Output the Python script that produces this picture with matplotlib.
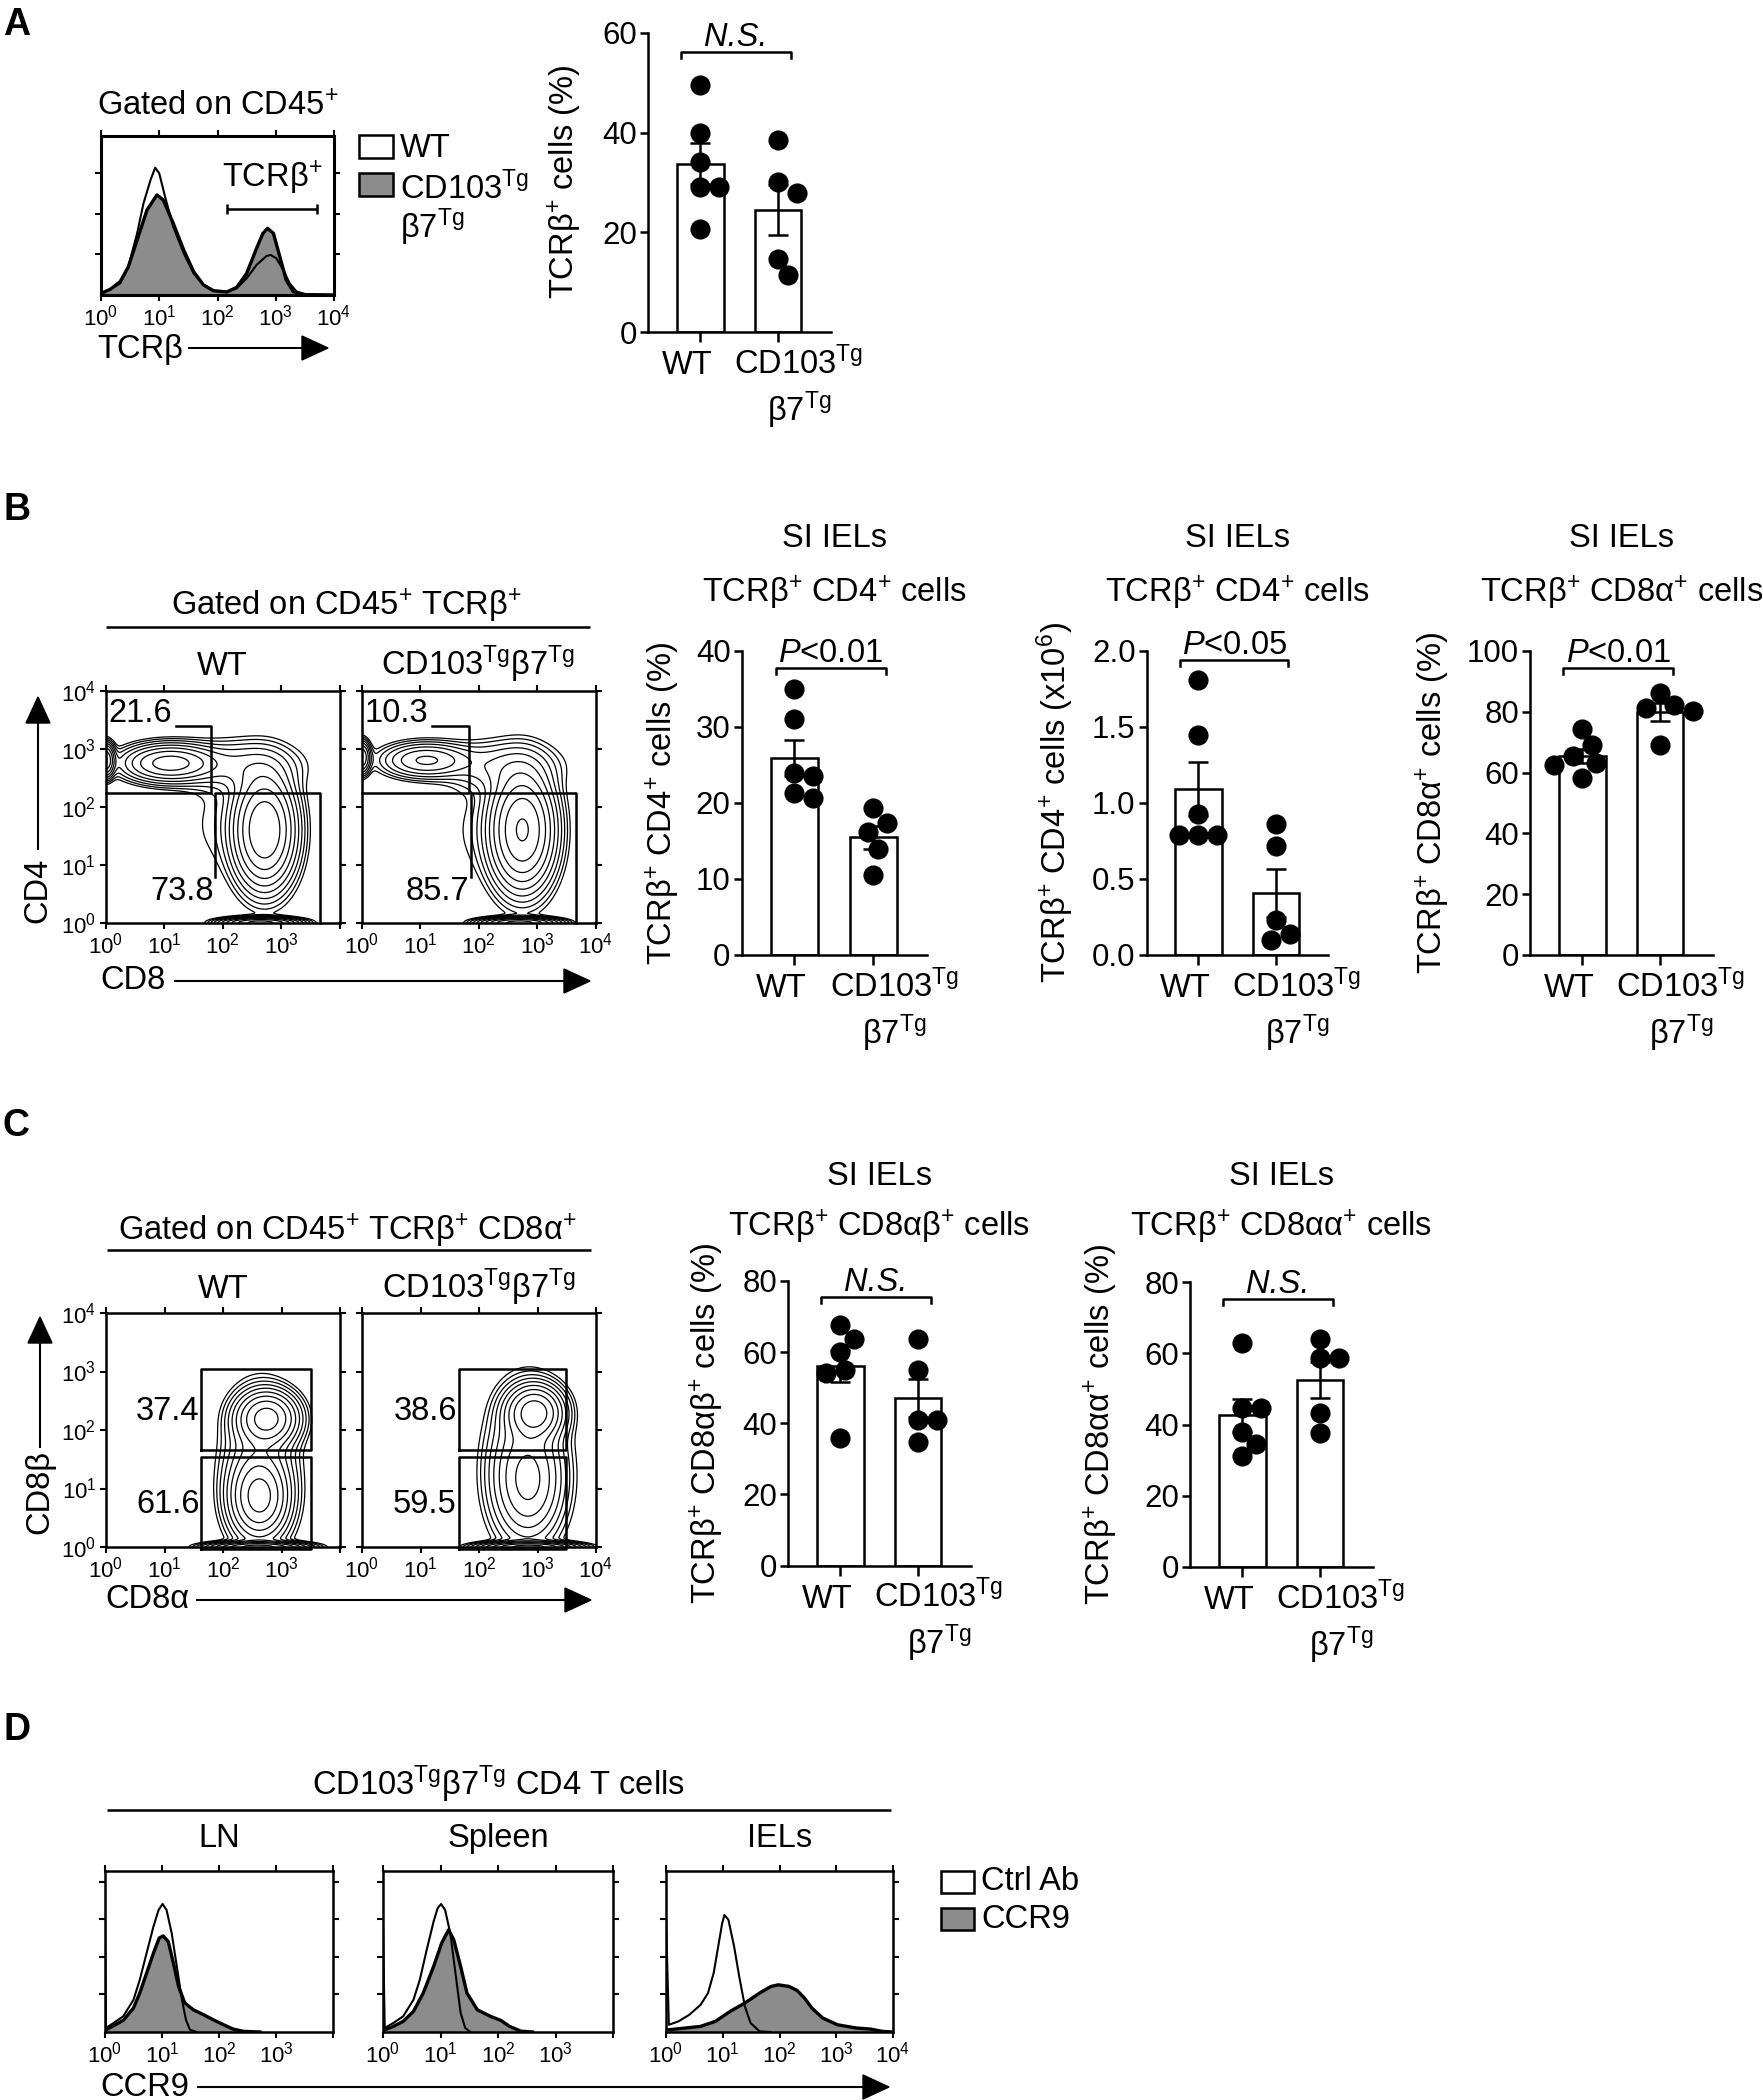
import numpy as np
import matplotlib
matplotlib.use('Agg')
import matplotlib.pyplot as plt
from matplotlib.lines import Line2D
from matplotlib.patches import Polygon, Rectangle

plt.rcParams['font.family'] = ['Liberation Sans', 'DejaVu Sans']
plt.rcParams['mathtext.fontset'] = 'custom'
plt.rcParams['mathtext.rm'] = 'Liberation Sans'
plt.rcParams['mathtext.it'] = 'Liberation Sans:italic'
plt.rcParams['mathtext.bf'] = 'Liberation Sans:bold'

# ---------------- data ----------------
groups = ['WT', 'CD103$^{\\mathrm{Tg}}$\nβ7$^{\\mathrm{Tg}}$']

# A: TCRb histograms (x in decades, y relative to frame height)
tcrb_wt_x = [0.00, 0.16, 0.33, 0.47, 0.62, 0.73, 0.85, 0.93, 1.00, 1.10, 1.24, 1.42, 1.59, 1.76,
             1.93, 2.16, 2.33, 2.50, 2.67, 2.84, 2.91, 3.01, 3.13, 3.24, 3.36, 3.53, 4.00]
tcrb_wt_y = [0.010, 0.036, 0.073, 0.178, 0.388, 0.577, 0.723, 0.801, 0.765, 0.618, 0.430, 0.262, 0.136, 0.063,
             0.027, 0.019, 0.042, 0.105, 0.189, 0.245, 0.252, 0.231, 0.157, 0.073, 0.021, 0.004, 0.0]
tcrb_tg_x = [0.00, 0.16, 0.33, 0.47, 0.62, 0.79, 0.96, 1.07, 1.24, 1.42, 1.59, 1.76, 1.93, 2.16,
             2.33, 2.50, 2.67, 2.78, 2.86, 2.96, 3.07, 3.18, 3.30, 3.47, 4.00]
tcrb_tg_y = [0.010, 0.036, 0.084, 0.178, 0.346, 0.535, 0.629, 0.597, 0.451, 0.283, 0.147, 0.063, 0.027, 0.019,
             0.048, 0.136, 0.293, 0.388, 0.419, 0.388, 0.241, 0.094, 0.021, 0.002, 0.0]

# dot plots (one value per mouse)
tcrb_pct_wt = [49.6, 39.9, 34.2, 29.0, 29.0, 20.7]
tcrb_pct_tg = [38.5, 30.1, 27.9, 14.7, 11.4]
cd4_pct_wt = [35.0, 31.0, 23.9, 23.6, 21.3, 20.6]
cd4_pct_tg = [19.4, 17.4, 16.2, 14.0, 10.5]
cd4_num_wt = [1.81, 1.45, 0.93, 0.79, 0.79, 0.79]
cd4_num_tg = [0.86, 0.72, 0.23, 0.14, 0.10]
cd8_pct_wt = [74.4, 69.2, 65.4, 63.2, 62.6, 58.2]
cd8_pct_tg = [86.3, 82.4, 81.3, 80.2, 69.2]
cd8ab_wt = [67.7, 63.8, 60.0, 54.9, 54.0, 35.8]
cd8ab_tg = [63.6, 55.1, 40.8, 40.8, 34.7]
cd8aa_wt = [62.8, 44.7, 44.5, 38.0, 34.4, 31.1]
cd8aa_tg = [63.9, 58.7, 58.7, 43.3, 37.7]

# contour plots: populations [x decade, y decade, spread x, spread y, weight]
b_wt_pops = [[1.10, 2.75, 0.42, 0.17, 1.0], [0.00, 2.80, 0.08, 0.15, 1.3],
             [2.72, 1.60, 0.27, 0.50, 2.0], [2.65, 0.00, 0.32, 0.045, 2.5],
             [2.35, 2.70, 0.55, 0.25, 0.2], [1.90, 1.70, 0.40, 0.60, 0.035]]
b_tg_pops = [[1.10, 2.80, 0.40, 0.16, 0.6], [0.00, 2.85, 0.08, 0.15, 0.9],
             [2.75, 1.60, 0.28, 0.52, 2.4], [2.70, 0.00, 0.32, 0.045, 2.8],
             [2.40, 2.70, 0.55, 0.25, 0.2], [1.95, 1.60, 0.40, 0.60, 0.035]]
c_wt_pops = [[2.75, 2.20, 0.27, 0.24, 1.0], [2.62, 0.85, 0.25, 0.35, 0.9],
             [2.62, 1.30, 0.33, 0.70, 0.25], [2.60, 0.00, 0.40, 0.045, 1.6]]
c_tg_pops = [[2.95, 2.30, 0.25, 0.24, 1.2], [2.85, 1.10, 0.30, 0.50, 0.45],
             [2.80, 1.40, 0.35, 0.70, 0.30], [2.85, 0.00, 0.40, 0.045, 1.8]]
b_wt_freq = ['21.6', '73.8']
b_tg_freq = ['10.3', '85.7']
c_wt_freq = ['37.4', '61.6']
c_tg_freq = ['38.6', '59.5']
# gates [x0, x1, y0, y1] in decades
b_wt_gates = [[0.0, 1.81, 2.23, 3.39], [1.87, 3.66, 0.0, 2.23]]
b_tg_gates = [[0.0, 1.84, 2.23, 3.39], [1.87, 3.66, 0.0, 2.23]]
c_wt_gates = [[1.63, 3.51, 1.66, 3.04], [1.63, 3.51, -0.03, 1.54]]
c_tg_gates = [[1.65, 3.48, 1.66, 3.04], [1.65, 3.48, -0.03, 1.54]]

# D: CCR9 histograms (x in decades)
ln_ctrl_x = [0.0, 0.018, 0.15, 0.32, 0.50, 0.61, 0.73, 0.85, 0.94, 1.01, 1.08, 1.17, 1.26, 1.35, 1.42, 1.49, 1.61]
ln_ctrl_y = [0.74, 0.025, 0.056, 0.097, 0.200, 0.324, 0.490, 0.655, 0.758, 0.795, 0.758, 0.614, 0.407, 0.200, 0.076, 0.014, 0.0]
ln_ccr9_x = [0.018, 0.15, 0.32, 0.50, 0.61, 0.73, 0.85, 0.95, 1.02, 1.11, 1.20, 1.29, 1.40, 1.55, 1.73, 1.90, 2.08, 2.25, 2.43, 2.72]
ln_ccr9_y = [0.014, 0.039, 0.072, 0.149, 0.242, 0.366, 0.490, 0.583, 0.597, 0.562, 0.428, 0.283, 0.180, 0.138, 0.107, 0.076, 0.045, 0.018, 0.004, 0.0]
spl_ctrl_x = [0.0, 0.03, 0.18, 0.35, 0.53, 0.64, 0.76, 0.88, 0.95, 1.01, 1.08, 1.17, 1.26, 1.35, 1.43, 1.52]
spl_ctrl_y = [0.65, 0.025, 0.056, 0.097, 0.200, 0.324, 0.510, 0.686, 0.769, 0.795, 0.758, 0.614, 0.366, 0.118, 0.025, 0.0]
spl_ccr9_x = [0.03, 0.18, 0.35, 0.53, 0.70, 0.88, 1.02, 1.14, 1.23, 1.35, 1.46, 1.64, 1.87, 2.05, 2.20, 2.40, 2.60]
spl_ccr9_y = [0.014, 0.035, 0.066, 0.128, 0.242, 0.407, 0.552, 0.634, 0.574, 0.407, 0.242, 0.138, 0.097, 0.072, 0.035, 0.005, 0.0]
iel_ctrl_x = [0.0, 0.05, 0.22, 0.41, 0.61, 0.74, 0.84, 0.92, 0.99, 1.03, 1.10, 1.20, 1.29, 1.39, 1.49, 1.65, 1.85]
iel_ctrl_y = [0.72, 0.045, 0.066, 0.107, 0.169, 0.242, 0.366, 0.531, 0.676, 0.727, 0.697, 0.531, 0.345, 0.159, 0.056, 0.004, 0.0]
iel_ccr9_x = [0.05, 0.35, 0.61, 0.87, 1.13, 1.39, 1.65, 1.85, 1.98, 2.17, 2.31, 2.44, 2.57, 2.76, 3.02, 3.35, 3.61, 3.81, 4.0]
iel_ccr9_y = [0.014, 0.025, 0.035, 0.066, 0.128, 0.180, 0.242, 0.283, 0.293, 0.283, 0.258, 0.211, 0.149, 0.087, 0.045, 0.025, 0.018, 0.004, 0.0]

# ---------------- helpers ----------------
W, H = 1763, 2100
fig = plt.figure(figsize=(W / 100, H / 100), dpi=100, facecolor='white')
GREY = '#8c8c8c'
FS = 23.5
TICK_FS = 22.5


def px_axes(l, t, r, b):
    return fig.add_axes([l / W, 1 - b / H, (r - l) / W, (b - t) / H])


def ftext(x, y, s, **kw):
    kw.setdefault('fontsize', FS)
    return fig.text(x / W, 1 - y / H, s, **kw)


def fline(xs, ys, lw=1.8):
    fig.add_artist(Line2D([x / W for x in xs], [1 - y / H for y in ys], color='black',
                          lw=lw, transform=fig.transFigure, solid_capstyle='butt'))


def farrow(x0, y0, x1, y1, head_len=26, head_w=12):
    d = np.array([x1 - x0, y1 - y0], float)
    u = d / np.hypot(*d)
    n = np.array([-u[1], u[0]])
    base = np.array([x1, y1]) - u * head_len
    fline([x0, base[0]], [y0, base[1]], lw=1.5)
    pts = [np.array([x1, y1]), base + n * head_w, base - n * head_w]
    fig.add_artist(Polygon([[p[0] / W, 1 - p[1] / H] for p in pts], closed=True,
                           color='black', transform=fig.transFigure))


def fbox(x, y, w, h, color):
    fig.add_artist(Rectangle((x / W, 1 - (y + h) / H), w / W, h / H, facecolor=color,
                             edgecolor='black', lw=1.8, transform=fig.transFigure))


def swarm_x(vals, x0, ppx, ppy, diam):
    vals = np.asarray(vals, float)
    xs = np.full(len(vals), float(x0))
    placed = []
    step = diam / 4.0
    for i in np.argsort(-vals):
        y = vals[i] * ppy
        off = None
        k = 0
        while off is None:
            for c in ([0.0] if k == 0 else [k * step, -k * step]):
                if all((c - px) ** 2 + (y - py) ** 2 >= (0.97 * diam) ** 2 for px, py in placed):
                    off = c
                    break
            k += 1
        placed.append((off, y))
        xs[i] = x0 + off / ppx
    return xs


def dot_bar(box, wt, tg, ymax, ystep, fmt, stat, br, ylab, ylab_xy, italic=False):
    ax = px_axes(*box)
    xlim = (-0.67, 1.68)
    data = [np.asarray(wt), np.asarray(tg)]
    means = [d.mean() for d in data]
    sems = [d.std(ddof=1) / np.sqrt(len(d)) for d in data]
    ax.bar([0, 1], means, width=0.6, color='white', edgecolor='black', linewidth=1.8, zorder=2)
    ax.errorbar([0, 1], means, yerr=sems, fmt='none', ecolor='black', elinewidth=1.8,
                capsize=7, capthick=1.8, zorder=3)
    ppx = (box[2] - box[0]) / (xlim[1] - xlim[0])
    ppy = (box[3] - box[1]) / ymax
    for i, d in enumerate(data):
        ax.plot(swarm_x(d, i, ppx, ppy, 19), d, 'o', ms=13.5, color='black', zorder=4, clip_on=False)
    ax.set_xlim(*xlim)
    ax.set_ylim(0, ymax)
    ticks = np.arange(0, ymax + 1e-9, ystep)
    ax.set_yticks(ticks)
    ax.set_yticklabels([fmt % v for v in ticks])
    ax.set_xticks([0, 1])
    ax.set_xticklabels([])
    for i, (lab, dx) in enumerate(zip(groups, [-13, 21])):
        for j, line in enumerate(lab.split('\n')):
            ax.annotate(line, (i, 0), xytext=(dx, -42 - 47 * j), textcoords='offset pixels',
                        ha='center', va='baseline', fontsize=FS, annotation_clip=False)
    ax.tick_params(axis='y', direction='out', length=6, width=1.8, labelsize=TICK_FS, pad=2)
    ax.tick_params(axis='x', direction='out', length=7, width=1.8)
    for s in ['top', 'right']:
        ax.spines[s].set_visible(False)
    for s in ['left', 'bottom']:
        ax.spines[s].set_linewidth(1.8)
    yb = br * ymax
    dy = 6 / ppy
    ax.plot([-0.24, -0.24, 1.16, 1.16], [yb - dy, yb, yb, yb - dy], color='black', lw=1.8, clip_on=False)
    ax.annotate(stat, (0.46, yb), xytext=(0, 6), textcoords='offset pixels', ha='center',
                va='baseline', fontsize=FS, fontstyle='italic' if italic else 'normal')
    ftext(ylab_xy[0], ylab_xy[1], ylab, rotation=90, ha='center', va='center')
    return ax


def flow_frame(ax, xlab, ylab, lw=1.8):
    ax.set_xlim(0, 4)
    ax.set_ylim(0, 4)
    ax.set_xticks(range(5))
    ax.set_yticks(range(5))
    ax.set_xticklabels(['$10^{%d}$' % k if k in xlab else '' for k in range(5)])
    ax.set_yticklabels(['$10^{%d}$' % k if k in ylab else '' for k in range(5)])
    ax.tick_params(direction='out', length=4, width=1.5, top=True, right=True, labelsize=16, pad=3)
    for s in ax.spines.values():
        s.set_linewidth(lw)


def contour_panel(box, pops, gates, freqs, ylab, cd4=True):
    ax = px_axes(*box)
    g = np.linspace(-0.3, 4.3, 320)
    X, Y = np.meshgrid(g, g)
    Z = np.zeros_like(X)
    for cx, cy, sx, sy, w in pops:
        Z += w * np.exp(-0.5 * (((X - cx) / sx) ** 2 + ((Y - cy) / sy) ** 2))
    ax.contour(X, Y, Z, levels=Z.max() * np.geomspace(0.012, 0.8, 10), colors='black', linewidths=0.9)
    flow_frame(ax, [0, 1, 2, 3] if ylab else [0, 1, 2, 3, 4], [0, 1, 2, 3, 4] if ylab else [])
    kw = dict(color='black', lw=1.8, clip_on=False)
    if cd4:
        (a0, a1, a2, a3), (b0, b1, b2, b3) = gates
        ax.plot([a0 + 1.2, a1, a1, a0], [a3, a3, a2, a2], **kw)
        ax.plot([b0, b0, b1, b1], [0.79, b3, b3, b2], **kw)
        ax.text(0.05, 3.46, freqs[0], fontsize=FS, ha='left', va='baseline')
        ax.text(b0 - 0.02, 0.39, freqs[1], fontsize=FS, ha='right', va='baseline')
    else:
        for (x0, x1, y0, y1) in gates:
            ax.plot([x0, x1, x1, x0, x0], [y0, y0, y1, y1, y0], **kw)
        ax.text(gates[0][0] - 0.03, 2.17, freqs[0], fontsize=FS, ha='right', va='baseline')
        ax.text(gates[1][0] - 0.03, 0.58, freqs[1], fontsize=FS, ha='right', va='baseline')
    return ax


def hist_panel(box, ctrl_x, ctrl_y, fill_x, fill_y, xlab, ystep, lw_frame=2.2):
    ax = px_axes(*box)
    ax.fill_between(fill_x, fill_y, color=GREY, lw=0, zorder=1)
    ax.plot(fill_x, fill_y, color='black', lw=2.4, zorder=2)
    ax.plot(ctrl_x, ctrl_y, color='black', lw=1.5, zorder=3)
    flow_frame(ax, xlab, [], lw=lw_frame)
    ax.set_ylim(0, 1)
    ax.set_yticks(np.arange(ystep, 1, ystep))
    ax.set_yticklabels([])
    return ax


# ---------------- panel A ----------------
ftext(3, 35, 'A', fontsize=27, fontweight='bold', va='baseline')
ftext(218, 115, 'Gated on CD45$^{+}$', ha='center', va='baseline')
hist_panel((101, 136, 334, 295), tcrb_wt_x, tcrb_wt_y, tcrb_tg_x, tcrb_tg_y, [0, 1, 2, 3, 4], 0.256)
ftext(272, 187, 'TCRβ$^{+}$', ha='center', va='baseline')
fline([227, 317], [209, 209])
fline([227, 227], [204, 214])
fline([317, 317], [204, 214])
ftext(97, 358, 'TCRβ', va='baseline')
farrow(188, 348, 328, 348)
fbox(359, 135, 34, 23, 'white')
fbox(359, 173, 34, 23, GREY)
ftext(400, 157, 'WT', va='baseline')
ftext(400, 199, 'CD103$^{\\mathrm{Tg}}$', va='baseline')
ftext(400, 238, 'β7$^{\\mathrm{Tg}}$', va='baseline')

dot_bar((648, 33, 831, 332), tcrb_pct_wt, tcrb_pct_tg, 60, 20, '%d', 'N.S.', 0.938,
        'TCRβ$^{+}$ cells (%)', (565, 182), italic=True)

# ---------------- panel B ----------------
ftext(3, 520, 'B', fontsize=27, fontweight='bold', va='baseline')
ftext(346, 615, 'Gated on CD45$^{+}$ TCRβ$^{+}$', ha='center', va='baseline')
fline([106, 590], [627, 627])
ftext(222, 675, 'WT', ha='center', va='baseline')
ftext(478, 675, 'CD103$^{\\mathrm{Tg}}$β7$^{\\mathrm{Tg}}$', ha='center', va='baseline')
contour_panel((105.5, 690.7, 339.5, 922.7), b_wt_pops, b_wt_gates, b_wt_freq, True)
contour_panel((361.5, 690.7, 595.5, 922.7), b_tg_pops, b_tg_gates, b_tg_freq, False)
ftext(38, 890, 'CD4', rotation=90, ha='center', va='center')
farrow(38, 850, 38, 697)
ftext(100, 981, 'CD8', va='center')
farrow(174, 981, 590, 981)

b_titles = ['TCRβ$^{+}$ CD4$^{+}$ cells', 'TCRβ$^{+}$ CD4$^{+}$ cells', 'TCRβ$^{+}$ CD8α$^{+}$ cells']
for cx, t in zip([834, 1237.5, 1621.5], b_titles):
    ftext(cx, 547, 'SI IELs', ha='center', va='baseline')
    ftext(cx, 602, t, ha='center', va='baseline')

dot_bar((741.7, 651, 926.7, 955), cd4_pct_wt, cd4_pct_tg, 40, 10, '%d', '$\\mathit{P}$<0.01', 0.943,
        'TCRβ$^{+}$ CD4$^{+}$ cells (%)', (663, 803))
dot_bar((1146.7, 651, 1328.3, 955), cd4_num_wt, cd4_num_tg, 2.0, 0.5, '%.1f', '$\\mathit{P}$<0.05', 0.97,
        'TCRβ$^{+}$ CD4$^{+}$ cells (x10$^{6}$)', (1055, 803))
dot_bar((1530, 651, 1713, 955), cd8_pct_wt, cd8_pct_tg, 100, 20, '%d', '$\\mathit{P}$<0.01', 0.945,
        'TCRβ$^{+}$ CD8α$^{+}$ cells (%)', (1433, 803))

# ---------------- panel C ----------------
ftext(3, 1136, 'C', fontsize=27, fontweight='bold', va='baseline')
ftext(347, 1240, 'Gated on CD45$^{+}$ TCRβ$^{+}$ CD8α$^{+}$', ha='center', va='baseline')
fline([107, 591], [1250, 1250])
ftext(223, 1298, 'WT', ha='center', va='baseline')
ftext(479, 1298, 'CD103$^{\\mathrm{Tg}}$β7$^{\\mathrm{Tg}}$', ha='center', va='baseline')
contour_panel((106, 1313, 340, 1547), c_wt_pops, c_wt_gates, c_wt_freq, True, cd4=False)
contour_panel((362, 1313, 596, 1547), c_tg_pops, c_tg_gates, c_tg_freq, False, cd4=False)
ftext(40, 1492, 'CD8β', rotation=90, ha='center', va='center')
farrow(40, 1448, 40, 1317)
ftext(105, 1600, 'CD8α', va='center')
farrow(196, 1600, 591, 1600)

c_titles = ['TCRβ$^{+}$ CD8αβ$^{+}$ cells', 'TCRβ$^{+}$ CD8αα$^{+}$ cells']
for cx, t in zip([879.5, 1281.5], c_titles):
    ftext(cx, 1185, 'SI IELs', ha='center', va='baseline')
    ftext(cx, 1236, t, ha='center', va='baseline')

dot_bar((788, 1281, 971, 1565.5), cd8ab_wt, cd8ab_tg, 80, 20, '%d', 'N.S.', 0.944,
        'TCRβ$^{+}$ CD8αβ$^{+}$ cells (%)', (707, 1423), italic=True)
dot_bar((1190, 1282, 1373, 1567), cd8aa_wt, cd8aa_tg, 80, 20, '%d', 'N.S.', 0.94,
        'TCRβ$^{+}$ CD8αα$^{+}$ cells (%)', (1101, 1424), italic=True)

# ---------------- panel D ----------------
ftext(3, 1740, 'D', fontsize=27, fontweight='bold', va='baseline')
ftext(498, 1795, 'CD103$^{\\mathrm{Tg}}$β7$^{\\mathrm{Tg}}$ CD4 T cells', ha='center', va='baseline')
fline([107, 891], [1810, 1810])
d_boxes = [(105, 1871, 333, 2032), (383, 1871, 613, 2032), (666, 1871, 893, 2032)]
d_names = ['LN', 'Spleen', 'IELs']
d_curves = [(ln_ctrl_x, ln_ctrl_y, ln_ccr9_x, ln_ccr9_y),
            (spl_ctrl_x, spl_ctrl_y, spl_ccr9_x, spl_ccr9_y),
            (iel_ctrl_x, iel_ctrl_y, iel_ccr9_x, iel_ccr9_y)]
for k, (box, name, cur) in enumerate(zip(d_boxes, d_names, d_curves)):
    cx, cy, fx, fy = cur
    hist_panel(box, cx, cy, fx, fy, [0, 1, 2, 3, 4] if k == 2 else [0, 1, 2, 3], 0.2335, lw_frame=1.8)
    ftext((box[0] + box[2]) / 2, 1847, name, ha='center', va='baseline')
fbox(941, 1871, 33, 22, 'white')
fbox(941, 1908, 33, 22, GREY)
ftext(981, 1882, 'Ctrl Ab', va='center')
ftext(981, 1920, 'CCR9', va='center')
ftext(100, 2087, 'CCR9', va='center')
farrow(197, 2087, 889, 2087)

fig.savefig('out.png', dpi=100, facecolor='white')
